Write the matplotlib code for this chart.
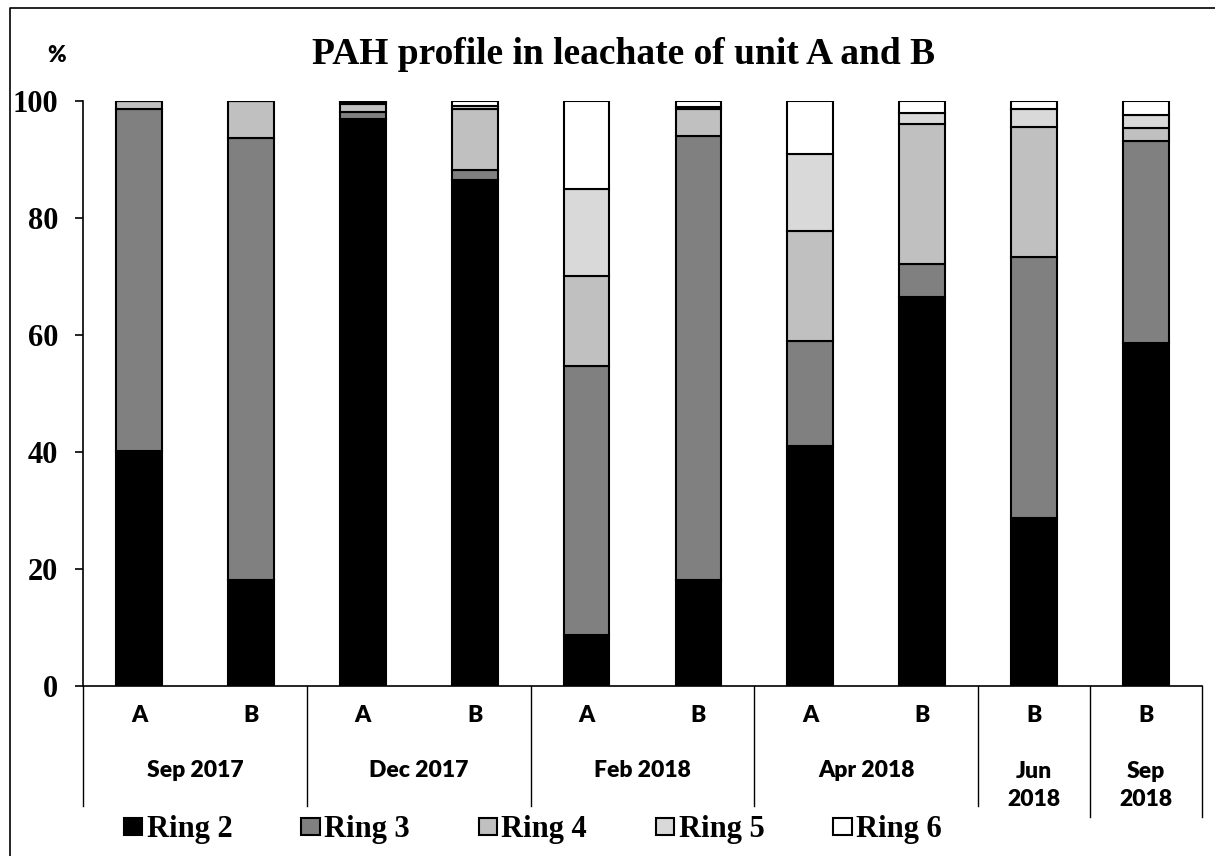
import matplotlib
matplotlib.use("Agg")
import matplotlib.pyplot as plt
import numpy as np
from matplotlib.lines import Line2D

# sample labels per bar and the sampling campaign they belong to
units = ["A", "B", "A", "B", "A", "B", "A", "B", "B", "B"]
campaigns = ["Sep 2017", "Dec 2017", "Feb 2018", "Apr 2018", "Jun\n2018", "Sep\n2018"]
campaign_sizes = [2, 2, 2, 2, 1, 1]

# share of each ring class (%)
ring2 = [40.2, 18.1, 96.9, 86.5, 8.7, 18.1, 41.1, 66.5, 28.7, 58.6]
ring3 = [58.4, 75.5, 1.3, 1.7, 46.0, 75.9, 17.9, 5.6, 44.7, 34.6]
ring4 = [1.4, 6.4, 1.3, 10.5, 15.4, 4.6, 18.8, 24.0, 22.2, 2.1]
ring5 = [0.0, 0.0, 0.3, 0.5, 14.8, 0.3, 13.2, 1.8, 3.1, 2.3]
ring6 = [0.0, 0.0, 0.2, 0.8, 15.1, 1.1, 9.0, 2.1, 1.3, 2.4]

series = [ring2, ring3, ring4, ring5, ring6]
names = ["Ring 2", "Ring 3", "Ring 4", "Ring 5", "Ring 6"]
colores = ["#000000", "#808080", "#c0c0c0", "#d9d9d9", "#ffffff"]

serif = "Liberation Serif"
sans = "Lato"
peso = "heavy"

fig = plt.figure(figsize=(12.15, 8.56), dpi=100)
ax = fig.add_axes([83 / 1215, 1 - 686 / 856, 1119 / 1215, 585 / 856])

x = np.arange(len(units))
base = np.zeros(len(units))
for vals, name, col in zip(series, names, colores):
    ax.bar(x, vals, width=0.41, bottom=base, color=col, edgecolor="black",
           linewidth=1.5, label=name)
    base += np.array(vals)

ax.set_xlim(-0.5, len(units) - 0.5)
ax.set_ylim(0, 100)
ax.set_yticks(range(0, 101, 20))
ax.set_yticklabels([str(v) for v in range(0, 101, 20)], fontfamily=serif,
                   fontweight="bold", fontsize=22)
ax.tick_params(axis="y", length=6, width=1.2, pad=12)
ax.set_xticks([])
for s in ["top", "right"]:
    ax.spines[s].set_visible(False)
ax.spines["left"].set_linewidth(1.2)
ax.spines["bottom"].set_linewidth(1.2)

# multi-level category axis
trans = ax.get_xaxis_transform()
for i, u in enumerate(units):
    ax.text(i, -0.05, u, transform=trans, ha="center", va="center",
            fontfamily=sans, fontweight=peso, fontsize=16.5)

start = 0
ax.plot([-0.5, -0.5], [0, -0.205], transform=trans, color="black",
        lw=1.0, clip_on=False)
for name, n in zip(campaigns, campaign_sizes):
    end = start + n
    centro = (start + end) / 2 - 0.5
    if "\n" in name:
        ax.text(centro, -0.17, name, transform=trans, ha="center", va="center",
                fontfamily=sans, fontweight=peso, fontsize=16.5, linespacing=1.45)
    else:
        ax.text(centro, -0.144, name, transform=trans, ha="center", va="center",
                fontfamily=sans, fontweight=peso, fontsize=16.5)
    y_fin = -0.224 if end >= 9 else -0.205
    ax.plot([end - 0.5, end - 0.5], [0, y_fin], transform=trans, color="black",
            lw=1.0, clip_on=False)
    start = end

fig.text(57 / 1215, 1 - 55 / 856, "%", ha="center", va="center",
         fontfamily=sans, fontweight=peso, fontsize=16)
fig.text(623 / 1215, 1 - 54 / 856, "PAH profile in leachate of unit A and B",
         ha="center", va="center", fontfamily=serif, fontweight="bold",
         fontsize=27)

leg = fig.legend(loc="center", bbox_to_anchor=(533 / 1215, 1 - 830 / 856),
                 ncol=5, frameon=False, handlelength=0.6, handleheight=0.5,
                 handletextpad=0.15, columnspacing=2.25,
                 prop={"family": serif, "weight": "bold", "size": 22})

# chart frame (left and top edges)
fig.add_artist(Line2D([10 / 1215, 10 / 1215, 1], [0, 1 - 8 / 856, 1 - 8 / 856],
                      transform=fig.transFigure, color="black", lw=1.2))

fig.savefig("out.png", dpi=100)
